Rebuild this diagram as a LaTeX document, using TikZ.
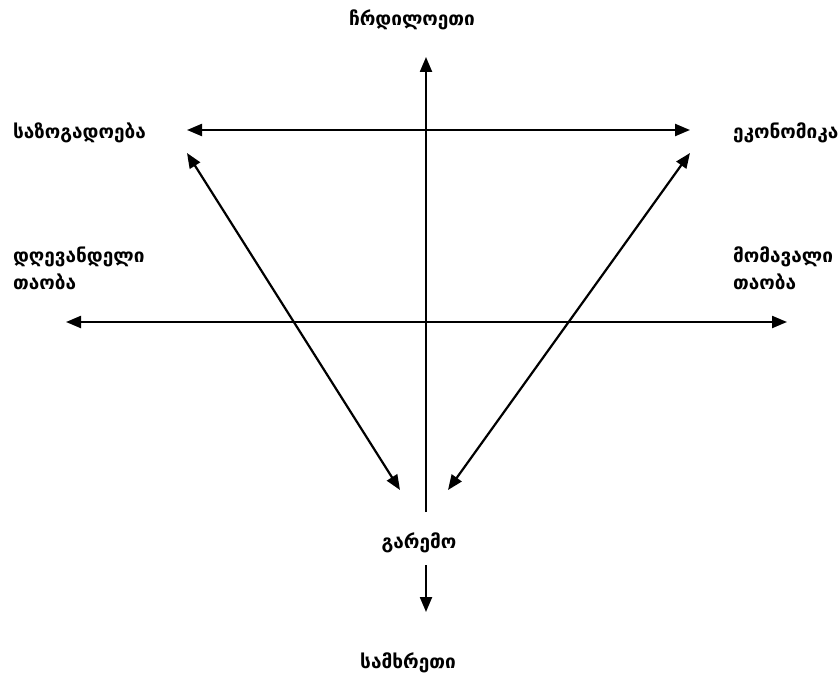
\documentclass[tikz,border=0pt]{standalone}
\usepackage{fontspec}
\setmainfont{DejaVu Sans}
\usetikzlibrary{arrows.meta}
\begin{document}
	\begin{tikzpicture}[x=1pt, y=-1pt, font=\fontsize{19}{27}\selectfont\bfseries, line join=round, >={Triangle[length=15pt,width=12pt]}, line width=2.2pt]
		\useasboundingbox (0,0) rectangle (839,677);
		\tikzset{lbl/.style={inner sep=0pt, align=left}}
		% arrow end points
		\coordinate (top) at (426,57);
		\coordinate (mid) at (426,512);
		\coordinate (soc) at (187,130);
		\coordinate (eco) at (690,130);
		\coordinate (socd) at (187,153);
		\coordinate (ecod) at (690,153);
		\coordinate (envl) at (400,490);
		\coordinate (envr) at (448,490);
		\coordinate (now) at (66,322);
		\coordinate (fut) at (787,322);
		\coordinate (down1) at (426,565);
		\coordinate (down2) at (426,612);
		% labels
		\path
		node[lbl] (north) at (412,20) {ჩრდილოეთი}
		node[lbl, anchor=west] (society) at (12,133) {საზოგადოება}
		node[lbl, anchor=west] (economy) at (732,133) {ეკონომიკა}
		node[lbl, anchor=west] (present) at (12,268) {დღევანდელი\\თაობა}
		node[lbl, anchor=west] (future) at (732,268) {მომავალი\\თაობა}
		node[lbl] (env) at (419,543) {გარემო}
		node[lbl] (south) at (408,663) {სამხრეთი};
		% arrows
		\draw[->] (mid) -- (top);
		\draw[<->] (soc) -- (eco);
		\draw[<->] (now) -- (fut);
		\draw[<->] (socd) -- (envl);
		\draw[<->] (ecod) -- (envr);
		\draw[->] (down1) -- (down2);
	\end{tikzpicture}
\end{document}
